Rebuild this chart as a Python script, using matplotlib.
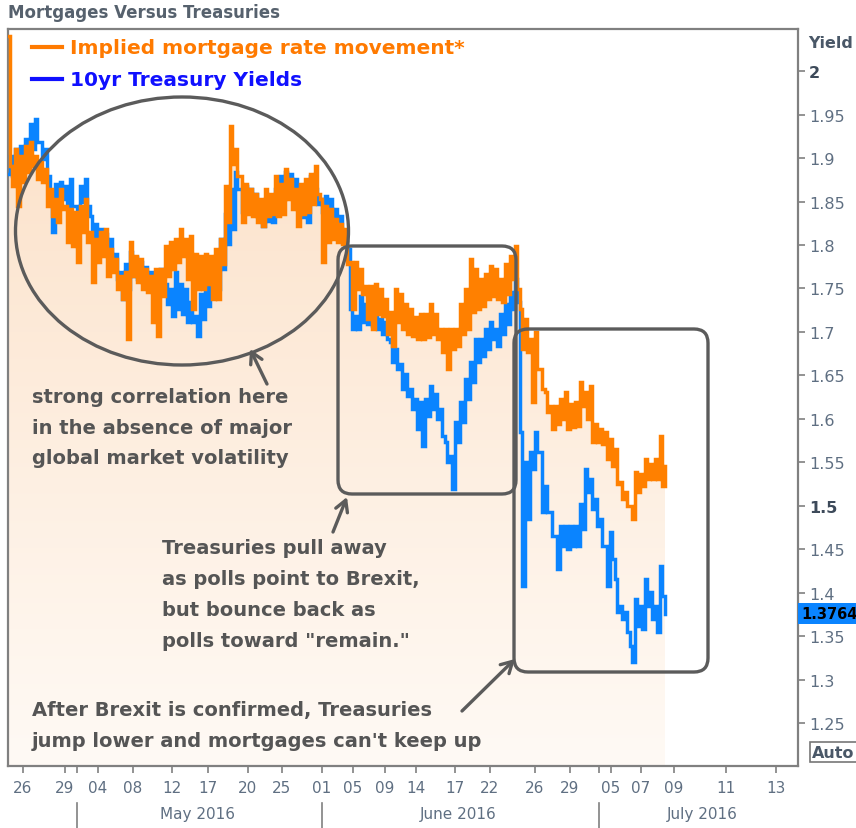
import numpy as np
import matplotlib
matplotlib.use("Agg")
import matplotlib.pyplot as plt
from matplotlib.patches import Ellipse, FancyBboxPatch, Polygon
from matplotlib.colors import LinearSegmentedColormap

# ---------------- data (yield %) ----------------
# envelope (high / low) of each intraday series, one pair per sampling slot
orange_start = 2.04
orange_hi = [1.891, 1.910, 1.902, 1.914, 1.918, 1.902, 1.895, 1.887, 1.864, 1.853,
             1.864, 1.845, 1.841, 1.838, 1.845, 1.853, 1.815, 1.807, 1.815, 1.818,
             1.795, 1.784, 1.764, 1.769, 1.803, 1.787, 1.784, 1.772, 1.764, 1.772,
             1.772, 1.799, 1.803, 1.807, 1.818, 1.807, 1.810, 1.790, 1.787, 1.790,
             1.787, 1.795, 1.807, 1.868, 1.937, 1.910, 1.879, 1.870, 1.864, 1.859,
             1.853, 1.864, 1.859, 1.879, 1.870, 1.887, 1.876, 1.864, 1.870, 1.876,
             1.882, 1.891, 1.853, 1.845, 1.841, 1.830, 1.824, 1.818, 1.780, 1.780,
             1.772, 1.753, 1.753, 1.755, 1.749, 1.738, 1.723, 1.749, 1.744, 1.732,
             1.726, 1.717, 1.721, 1.721, 1.732, 1.721, 1.703, 1.703, 1.703, 1.703,
             1.732, 1.749, 1.784, 1.772, 1.761, 1.767, 1.776, 1.772, 1.761, 1.778,
             1.787, 1.799, 1.726, 1.715, 1.692, 1.700, 1.657, 1.631, 1.615, 1.615,
             1.623, 1.631, 1.617, 1.620, 1.643, 1.631, 1.638, 1.594, 1.589, 1.585,
             1.577, 1.566, 1.528, 1.516, 1.500, 1.539, 1.537, 1.554, 1.548, 1.554,
             1.580]
orange_lo = [1.868, 1.845, 1.872, 1.884, 1.891, 1.876, 1.872, 1.845, 1.833, 1.826,
             1.841, 1.803, 1.799, 1.780, 1.815, 1.803, 1.757, 1.780, 1.787, 1.764,
             1.769, 1.749, 1.738, 1.692, 1.764, 1.757, 1.749, 1.746, 1.711, 1.695,
             1.741, 1.764, 1.772, 1.780, 1.787, 1.761, 1.726, 1.749, 1.749, 1.755,
             1.738, 1.738, 1.778, 1.826, 1.893, 1.879, 1.826, 1.836, 1.833, 1.827,
             1.822, 1.833, 1.836, 1.833, 1.836, 1.853, 1.841, 1.822, 1.836, 1.838,
             1.847, 1.859, 1.780, 1.803, 1.807, 1.803, 1.801, 1.778, 1.726, 1.749,
             1.744, 1.715, 1.703, 1.721, 1.718, 1.698, 1.684, 1.711, 1.703, 1.698,
             1.695, 1.692, 1.692, 1.694, 1.698, 1.692, 1.677, 1.657, 1.680, 1.684,
             1.698, 1.703, 1.723, 1.726, 1.730, 1.738, 1.741, 1.738, 1.734, 1.744,
             1.761, 1.749, 1.680, 1.677, 1.620, 1.657, 1.634, 1.608, 1.589, 1.594,
             1.600, 1.589, 1.591, 1.592, 1.615, 1.600, 1.574, 1.574, 1.571, 1.554,
             1.546, 1.525, 1.508, 1.500, 1.485, 1.516, 1.523, 1.531, 1.531, 1.531,
             1.523]
orange_last = 1.546

blue_start = 1.882
blue_hi = [1.902, 1.910, 1.914, 1.922, 1.939, 1.945, 1.918, 1.910, 1.853, 1.870,
           1.872, 1.868, 1.876, 1.845, 1.868, 1.876, 1.833, 1.824, 1.818, 1.813,
           1.807, 1.790, 1.769, 1.778, 1.792, 1.786, 1.780, 1.775, 1.769, 1.767,
           1.772, 1.755, 1.749, 1.769, 1.755, 1.749, 1.734, 1.718, 1.744, 1.757,
           1.769, 1.784, 1.807, 1.836, 1.864, 1.884, 1.864, 1.868, 1.864, 1.859,
           1.841, 1.847, 1.849, 1.864, 1.879, 1.884, 1.882, 1.876, 1.859, 1.853,
           1.879, 1.864, 1.853, 1.856, 1.853, 1.841, 1.833, 1.803, 1.726, 1.718,
           1.741, 1.732, 1.726, 1.718, 1.715, 1.711, 1.689, 1.680, 1.663, 1.652,
           1.634, 1.623, 1.620, 1.623, 1.638, 1.629, 1.611, 1.574, 1.557, 1.597,
           1.620, 1.646, 1.666, 1.692, 1.692, 1.703, 1.711, 1.703, 1.721, 1.732,
           1.746, 1.761, 1.585, 1.551, 1.562, 1.585, 1.562, 1.523, 1.493, 1.466,
           1.477, 1.477, 1.477, 1.477, 1.502, 1.543, 1.531, 1.508, 1.485, 1.454,
           1.470, 1.416, 1.385, 1.378, 1.339, 1.393, 1.385, 1.416, 1.401, 1.385,
           1.431]
blue_lo = [1.879, 1.887, 1.891, 1.902, 1.910, 1.918, 1.899, 1.879, 1.815, 1.847,
           1.853, 1.845, 1.845, 1.818, 1.849, 1.845, 1.807, 1.801, 1.795, 1.790,
           1.780, 1.761, 1.738, 1.749, 1.764, 1.761, 1.757, 1.752, 1.749, 1.744,
           1.749, 1.732, 1.718, 1.726, 1.721, 1.711, 1.711, 1.695, 1.715, 1.730,
           1.741, 1.749, 1.772, 1.801, 1.818, 1.864, 1.838, 1.845, 1.841, 1.833,
           1.822, 1.828, 1.826, 1.841, 1.853, 1.864, 1.859, 1.853, 1.832, 1.826,
           1.856, 1.847, 1.838, 1.830, 1.826, 1.813, 1.803, 1.795, 1.703, 1.703,
           1.711, 1.709, 1.707, 1.703, 1.698, 1.692, 1.666, 1.657, 1.634, 1.626,
           1.611, 1.589, 1.569, 1.603, 1.611, 1.600, 1.580, 1.551, 1.520, 1.574,
           1.597, 1.623, 1.643, 1.666, 1.672, 1.680, 1.692, 1.684, 1.698, 1.709,
           1.726, 1.734, 1.408, 1.485, 1.543, 1.562, 1.493, 1.493, 1.466, 1.428,
           1.454, 1.451, 1.454, 1.454, 1.474, 1.516, 1.497, 1.477, 1.454, 1.408,
           1.439, 1.378, 1.370, 1.355, 1.321, 1.362, 1.359, 1.385, 1.370, 1.355,
           1.397]
blue_last = 1.3764

# x-axis (trading-time slots) tick labels
day_ticks = [2.6, 11.0, 17.6, 24.6, 32.4, 39.6, 47.6, 54.4, 62.4, 68.6, 75.0, 81.2,
             89.0, 96.0, 105.0, 112.0, 120.2, 126.2, 132.8, 143.2, 153.2]
day_labels = ["26", "29", "04", "08", "12", "17", "20", "25", "01", "05", "09", "14",
              "17", "22", "26", "29", "05", "07", "09", "11", "13"]
month_breaks = [13.4, 62.4, 117.8]
month_labels = ["May 2016", "June 2016", "July 2016"]
month_centers = [37.5, 89.6, 138.4]
yticks = [1.25, 1.3, 1.35, 1.4, 1.45, 1.5, 1.55, 1.6, 1.65, 1.7, 1.75, 1.8, 1.85, 1.9, 1.95, 2.0]
ytick_labels = ["1.25", "1.3", "1.35", "1.4", "1.45", "1.5", "1.55", "1.6", "1.65",
                "1.7", "1.75", "1.8", "1.85", "1.9", "1.95", "2"]


def build(start, hi, lo, last):
    vals = [start]
    for h, l in zip(hi, lo):
        vals += [h, l]
    vals.append(last)
    x = (np.arange(len(vals)) - 1) * 0.5
    return x, np.array(vals)


xo, yo = build(orange_start, orange_hi, orange_lo, orange_last)
xb, yb = build(blue_start, blue_hi, blue_lo, blue_last)

W, H = 856, 829
fig = plt.figure(figsize=(W / 100, H / 100), dpi=100)
fig.patch.set_facecolor("white")

ax = fig.add_axes([8 / W, 62 / H, 790 / W, 737 / H])
XMIN, XMAX = -0.3, 157.6
YMIN, YMAX = 1.2011, 2.0483
ax.set_xlim(XMIN, XMAX)
ax.set_ylim(YMIN, YMAX)
ax.set_facecolor("white")

# gradient fill under the orange series
cmap = LinearSegmentedColormap.from_list("peach", ["#fffaf5", "#fce2ca"])
grad = np.linspace(0, 1, 256).reshape(-1, 1)
im = ax.imshow(grad, extent=[XMIN, XMAX, YMIN, 1.95], origin="lower", cmap=cmap,
               aspect="auto", zorder=1)
xs_step = np.repeat(xo, 2)[1:]
ys_step = np.repeat(yo, 2)[:-1]
poly_pts = np.column_stack([np.concatenate([[xo[0]], xs_step, [xs_step[-1]]]),
                            np.concatenate([[YMIN], ys_step, [YMIN]])])
clip = Polygon(poly_pts, closed=True, transform=ax.transData, facecolor="none", edgecolor="none")
ax.add_patch(clip)
im.set_clip_path(clip)

ax.plot(xb, yb, drawstyle="steps-post", color="#0a84ff", lw=2.5, zorder=3, solid_joinstyle="miter")
ax.plot(xo, yo, drawstyle="steps-post", color="#ff8000", lw=2.5, zorder=4, solid_joinstyle="miter")

for s in ax.spines.values():
    s.set_color("#808080")
    s.set_linewidth(1.6)

ax.yaxis.tick_right()
ax.set_yticks(yticks)
ax.set_yticklabels(ytick_labels)
ax.tick_params(axis="y", direction="out", length=5, width=1.2, color="#808080",
               labelsize=11.5, labelcolor="#5f6f82", pad=3)
for lab in ax.get_yticklabels():
    if lab.get_text() in ("2", "1.5"):
        lab.set_fontweight("bold")
        lab.set_color("#3d4a5a")
ax.set_xticks(day_ticks + [month_breaks[0], month_breaks[2]])
ax.set_xticklabels(day_labels + ["", ""])
ax.tick_params(axis="x", direction="out", length=5, width=1.2, color="#808080",
               labelsize=11, labelcolor="#5f6f82", pad=5)

fig.text(808 / W, 1 - 44 / H, "Yield", fontsize=11.5, fontweight="bold", color="#4a5868",
         va="center", ha="left")
fig.text(8 / W, 1 - 13 / H, "Mortgages Versus Treasuries", fontsize=12, fontweight="bold",
         color="#56616d", va="center", ha="left")

# month row
for mb in month_breaks:
    ax.plot([mb, mb], [-0.05, -0.09], transform=ax.get_xaxis_transform(), color="#808080",
            lw=1.2, clip_on=False)
for mc, ml in zip(month_centers, month_labels):
    ax.text(mc, -0.065, ml, transform=ax.get_xaxis_transform(), ha="center", va="center",
            fontsize=11, color="#5f6f82")

# last price box
ax.text(1.004, blue_last, "1.3764", transform=ax.get_yaxis_transform(), ha="left", va="center",
        fontsize=10.5, fontweight="bold", color="black", clip_on=False,
        bbox=dict(boxstyle="square,pad=0.2", facecolor="#0a84ff", edgecolor="none"), zorder=10)

# legend
leg_items = [("Implied mortgage rate movement*", "#ff7a00", 48), ("10yr Treasury Yields", "#1010ff", 80)]
for txt, col, ypx in leg_items:
    fig.add_artist(plt.Line2D([32 / W, 62 / W], [1 - ypx / H, 1 - ypx / H], color=col, lw=3))
    fig.text(70 / W, 1 - ypx / H, txt, fontsize=14.5, fontweight="bold", color=col,
             va="center", ha="left")

# annotation overlay in pixel coordinates
ov = fig.add_axes([0, 0, 1, 1], facecolor="none")
ov.set_xlim(0, W)
ov.set_ylim(H, 0)
ov.axis("off")
gray = "#5b5b5b"
ov.add_patch(Ellipse((182, 232), 333, 268, fill=False, edgecolor=gray, lw=2.4))
ov.add_patch(FancyBboxPatch((338, 247), 178, 248, boxstyle="round,pad=0,rounding_size=14",
                            fill=False, edgecolor=gray, lw=2.4))
ov.add_patch(FancyBboxPatch((514, 330), 194, 343, boxstyle="round,pad=0,rounding_size=14",
                            fill=False, edgecolor=gray, lw=2.4))
arrow_kw = dict(arrowstyle="->,head_length=0.8,head_width=0.45", color=gray, lw=2.4,
                shrinkA=0, shrinkB=0)
ov.annotate("", xy=(250, 350), xytext=(267, 385), arrowprops=arrow_kw)
ov.annotate("", xy=(347, 498), xytext=(333, 533), arrowprops=arrow_kw)
ov.annotate("", xy=(515, 660), xytext=(462, 712), arrowprops=arrow_kw)

tkw = dict(fontsize=14, fontweight="bold", color="#555555", ha="left", va="center",
           linespacing=1.78)
ov.text(32, 428, "strong correlation here\nin the absence of major\nglobal market volatility", **tkw)
ov.text(162, 595, "Treasuries pull away\nas polls point to Brexit,\nbut bounce back as\npolls toward \"remain.\"", **tkw)
ov.text(32, 726, "After Brexit is confirmed, Treasuries\njump lower and mortgages can't keep up", **tkw)

# "Auto" box
ov.text(812, 753, "Auto", fontsize=11.5, fontweight="bold", color="#4a5868", ha="left", va="center",
        bbox=dict(boxstyle="square,pad=0.15", facecolor="white", edgecolor="#777777", lw=1.2))

fig.savefig("out.png", dpi=100)
